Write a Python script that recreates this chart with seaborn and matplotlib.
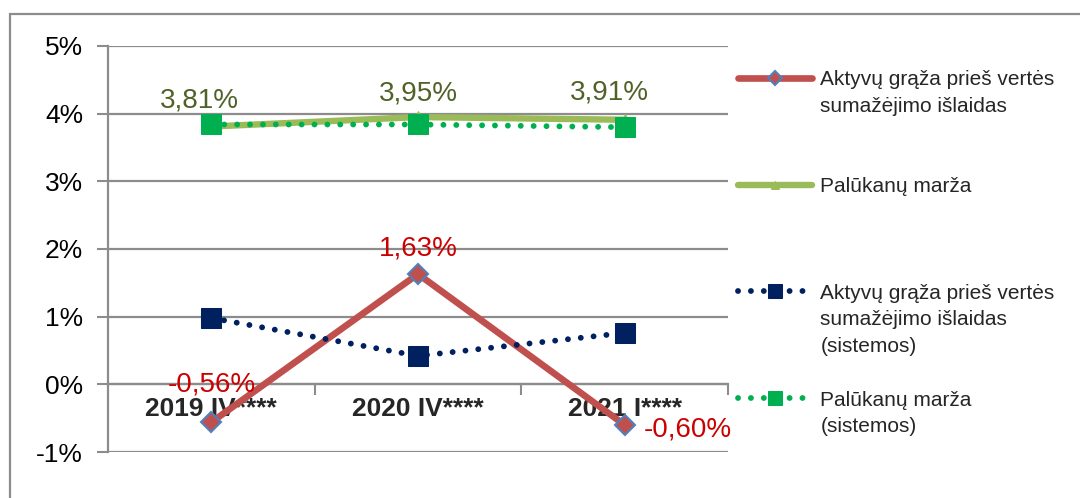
import numpy as np
import pandas as pd
import matplotlib
matplotlib.use("Agg")
import matplotlib.pyplot as plt
from matplotlib.lines import Line2D
from matplotlib.patches import Rectangle
from matplotlib.ticker import FixedLocator, FuncFormatter
import seaborn as sns

# ---- data -------------------------------------------------------------
periods = ["2019 IV****", "2020 IV****", "2021 I****"]
roa_bank = [-0.56, 1.63, -0.60]          # Aktyvų grąža prieš vertės sumažėjimo išlaidas
nim_bank = [3.81, 3.95, 3.91]            # Palūkanų marža
roa_system = [0.98, 0.42, 0.76]          # ... (sistemos)
nim_system = [3.84, 3.84, 3.80]          # Palūkanų marža (sistemos)

y_ticks = [-1, 0, 1, 2, 3, 4, 5]

# ---- style ------------------------------------------------------------
sns.set_style("white")
plt.rcParams["font.family"] = ["Liberation Sans", "DejaVu Sans"]

RED = "#C0504D"
OLIVE = "#9BBB59"
NAVY = "#002060"
GREEN = "#00B050"
GRID = "#8C8C8C"

fig = plt.figure(figsize=(10.8, 4.98), dpi=100)
ax = fig.add_axes([108 / 1080, 1 - 452 / 498, 620 / 1080, 406 / 498])

df = pd.DataFrame({"period": periods, "roa": roa_bank, "nim": nim_bank,
                   "roa_s": roa_system, "nim_s": nim_system})

sns.lineplot(data=df, x="period", y="roa", ax=ax, color=RED, lw=4.8,
             marker="D", markersize=10.5, markerfacecolor=RED,
             markeredgecolor="#4F81BD", markeredgewidth=1.5, legend=False,
             zorder=3)
sns.lineplot(data=df, x="period", y="nim", ax=ax, color=OLIVE, lw=4.6,
             marker="^", markersize=8, markerfacecolor=OLIVE,
             markeredgecolor=OLIVE, legend=False, zorder=4)
sns.lineplot(data=df, x="period", y="roa_s", ax=ax, color=NAVY, lw=4.2,
             marker="s", markersize=15, markerfacecolor=NAVY,
             markeredgecolor=NAVY, legend=False, zorder=5)
sns.lineplot(data=df, x="period", y="nim_s", ax=ax, color=GREEN, lw=4.2,
             marker="s", markersize=15, markerfacecolor=GREEN,
             markeredgecolor=GREEN, legend=False, zorder=6)

lines = ax.lines[:4]
for ln in lines[2:]:
    ln.set_dashes((0.01, 2.2))
    ln.set_dash_capstyle("round")
for ln in lines[:2]:
    ln.set_solid_capstyle("round")

# ---- axes -------------------------------------------------------------
ax.set_xlim(-0.5, 2.5)
ax.set_ylim(-1, 5)
ax.set_xlabel("")
ax.set_ylabel("")

ax.yaxis.set_major_locator(FixedLocator(y_ticks))
ax.yaxis.set_major_formatter(FuncFormatter(lambda v, _: f"{v:.0f}%"))
ax.tick_params(axis="y", length=8, width=1.5, color=GRID, pad=10,
               labelsize=19, labelcolor="black", left=True)
ax.grid(axis="y", color=GRID, lw=1.6, zorder=0)
ax.grid(axis="x", visible=False)

for side in ("top", "right"):
    ax.spines[side].set_visible(False)
ax.spines["left"].set_color(GRID)
ax.spines["left"].set_linewidth(1.6)
ax.spines["bottom"].set_position(("data", 0))
ax.spines["bottom"].set_color(GRID)
ax.spines["bottom"].set_linewidth(1.6)

ax.xaxis.set_major_locator(FixedLocator([0, 1, 2]))
ax.set_xticklabels(periods, fontweight="bold", fontsize=19)
ax.xaxis.set_minor_locator(FixedLocator([0.5, 1.5, 2.5]))
ax.tick_params(axis="x", which="major", length=0, pad=9, bottom=True)
ax.tick_params(axis="x", which="minor", length=8, width=1.5, color=GRID,
               bottom=True)

# ---- value labels -----------------------------------------------------
def fmt(v):
    return f"{v:.2f}%".replace(".", ",")

nim_offsets = [(-12, 26), (0, 24), (-15, 27)]
for i, (v, off) in enumerate(zip(nim_bank, nim_offsets)):
    ax.annotate(fmt(v), (i, v), xytext=off, textcoords="offset pixels",
                ha="center", va="center", fontsize=20, color="#4F6228",
                zorder=10)

roa_offsets = [(0, 38), (0, 26), (63, -5)]
for i, (v, off) in enumerate(zip(roa_bank, roa_offsets)):
    ax.annotate(fmt(v), (i, v), xytext=off, textcoords="offset pixels",
                ha="center", va="center", fontsize=20, color="#CC0000",
                zorder=10)

# ---- legend -----------------------------------------------------------
blank = Line2D([], [], linestyle="none")
rows = [
    (lines[0], "Aktyvų grąža prieš vertės"), (blank, "sumažėjimo išlaidas"),
    (blank, " "), (blank, " "),
    (lines[1], "Palūkanų marža"),
    (blank, " "), (blank, " "), (blank, " "),
    (lines[2], "Aktyvų grąža prieš vertės"), (blank, "sumažėjimo išlaidas"),
    (blank, "(sistemos)"),
    (blank, " "),
    (lines[3], "Palūkanų marža"), (blank, "(sistemos)"),
]
fig.legend([h for h, _ in rows], [t for _, t in rows],
           loc="upper left", bbox_to_anchor=(738 / 1080, 1 - 70 / 498),
           frameon=False, fontsize=15, borderpad=0, borderaxespad=0,
           handlelength=3.55, handletextpad=0.4, labelspacing=0.37,
           markerscale=0.65)

# ---- outer frame ------------------------------------------------------
fig.add_artist(Rectangle((10 / 1080, -0.2), 1.2, 1.2 - 14 / 498,
                         transform=fig.transFigure, fill=False,
                         edgecolor=GRID, lw=1.6, clip_on=False))

fig.savefig("out.png", dpi=100)
